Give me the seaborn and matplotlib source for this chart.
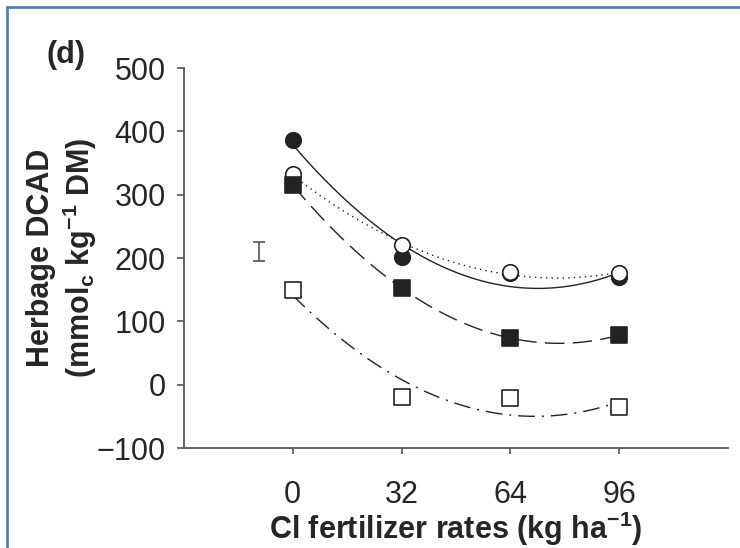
import numpy as np
import seaborn as sns
import matplotlib.pyplot as plt
from matplotlib.lines import Line2D

# Cl fertilizer rates (kg ha-1) and herbage DCAD for the four treatments
rates = [0, 32, 64, 96]
dcad_filled_circle = [386, 201, 176, 170]
dcad_open_circle = [332, 220, 178, 176]
dcad_filled_square = [315, 152, 74, 78]
dcad_open_square = [150, -19, -21, -36]

# LSD bar
lsd_x = -10
lsd_y = 210
lsd_half = 15

x_ticks = [0, 32, 64, 96]
y_ticks = [-100, 0, 100, 200, 300, 400, 500]

sns.set_style("ticks")
plt.rcParams['font.family'] = ['Liberation Sans', 'DejaVu Sans']
plt.rcParams['mathtext.fontset'] = 'custom'
plt.rcParams['mathtext.rm'] = 'Liberation Sans:bold'
plt.rcParams['mathtext.it'] = 'Liberation Sans:bold'
plt.rcParams['mathtext.bf'] = 'Liberation Sans:bold'

ink = '#222222'
axis_col = '#555555'
fs = 22

fig = plt.figure(figsize=(7.4, 5.48), dpi=100)
ax = fig.add_axes([184 / 740, 100 / 548, (728 - 184) / 740, (448 - 68) / 548])

# (values, marker, facecolor, linestyle)
series = [
    (dcad_filled_circle, 'o', ink, '-'),
    (dcad_open_circle, 'o', 'white', (0, (1, 3))),
    (dcad_filled_square, 's', ink, (0, (14, 6))),
    (dcad_open_square, 's', 'white', (0, (12, 5, 1.5, 5))),
]

for i, (vals, mk, fc, ls) in enumerate(series):
    sns.regplot(x=np.array(rates), y=np.array(vals), order=2, ci=None, ax=ax,
                color=ink, truncate=True, marker=mk,
                scatter_kws={'s': 125, 'facecolors': fc,
                             'edgecolors': ink, 'linewidths': 1.2,
                             'alpha': 1, 'zorder': 5 + i},
                line_kws={'linestyle': ls, 'linewidth': 1.0, 'zorder': 2})

ax.errorbar([lsd_x], [lsd_y], yerr=[lsd_half], fmt='none', ecolor='#555555',
            elinewidth=1.2, capsize=4, capthick=1.2)

ax.set_xlim(-32, 128)
ax.set_ylim(-100, 500)
ax.set_xticks(x_ticks)
ax.set_yticks(y_ticks)
ax.set_yticklabels(['\u2212100', '0', '100', '200', '300', '400', '500'])

sns.despine(ax=ax)
for sp in ['left', 'bottom']:
    ax.spines[sp].set_color(axis_col)
    ax.spines[sp].set_linewidth(1.3)

ax.tick_params(axis='y', labelsize=fs, length=5, width=1.2, color=axis_col, pad=8)
ax.tick_params(axis='x', labelsize=fs, length=4, width=1.2, color=axis_col, pad=19)

ax.set_xlabel('Cl fertilizer rates (kg ha$^{\\mathrm{-1}}$)', fontsize=fs, fontweight='bold')
ax.set_ylabel('Herbage DCAD\n(mmol$_{\\mathrm{c}}$ kg$^{\\mathrm{-1}}$ DM)', fontsize=fs,
              fontweight='bold', linespacing=1.15)
ax.xaxis.set_label_coords(0.5, -0.163)
ax.yaxis.set_label_coords(-0.156, 0.5)

fig.text(66 / 740, 1 - 55 / 548, '(d)', fontsize=fs, fontweight='bold',
         ha='center', va='center')

# blue frame of the screenshot (left and top only)
blue = '#4F81BD'
fig.add_artist(Line2D([7 / 740, 7 / 740], [0, 1 - 7 / 548], transform=fig.transFigure,
                      color=blue, lw=2))
fig.add_artist(Line2D([7 / 740, 1], [1 - 7 / 548, 1 - 7 / 548], transform=fig.transFigure,
                      color=blue, lw=2))

fig.savefig('out.png', dpi=100)
